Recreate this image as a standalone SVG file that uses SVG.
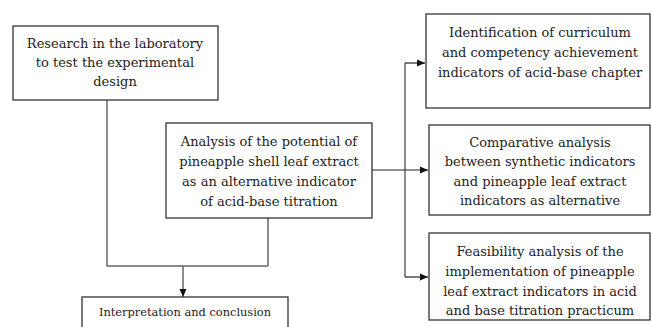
<svg xmlns="http://www.w3.org/2000/svg" width="652" height="327" viewBox="0 0 652 327">
<style>
.box{fill:#fff;stroke:#333;stroke-width:1.3}
text{font-family:'DejaVu Serif','Liberation Serif',serif;font-size:13px;fill:#222;text-anchor:middle}
.c{fill:none;stroke:#666;stroke-width:1.5}
.a{fill:none;stroke:#222;stroke-width:1.2}
</style>
<defs>
<marker id="ah" markerWidth="9" markerHeight="9" refX="8" refY="4.5" orient="auto" markerUnits="userSpaceOnUse">
<path d="M0,1 L8,4.5 L0,8 Z" fill="#111"/>
</marker>
</defs>
<rect width="652" height="327" fill="#fff"/>
<g id="connectors">
<polyline class="c" points="107,100 107,266 268,266"/>
<line class="c" x1="268" y1="218" x2="268" y2="266"/>
<line class="c" x1="183" y1="266" x2="183" y2="297" marker-end="url(#ah)"/>
<line class="c" x1="405" y1="63" x2="405" y2="277"/>
<line class="a" x1="372" y1="170" x2="428" y2="170" marker-end="url(#ah)"/>
<line class="a" x1="405" y1="63" x2="425" y2="63" marker-end="url(#ah)"/>
<line class="a" x1="405" y1="277" x2="428" y2="277" marker-end="url(#ah)"/>
</g>
<g id="research">
<rect class="box" x="13" y="26" width="205" height="74"/>
<text x="115" y="48">Research in the laboratory</text>
<text x="115" y="67">to test the experimental</text>
<text x="115" y="86">design</text>
</g>
<g id="analysis">
<rect class="box" x="166" y="123" width="206" height="95"/>
<text x="269" y="146">Analysis of the potential of</text>
<text x="269" y="166">pineapple shell leaf extract</text>
<text x="269" y="186">as an alternative indicator</text>
<text x="269" y="206">of acid-base titration</text>
</g>
<g id="identification">
<rect class="box" x="426" y="14" width="224" height="94"/>
<text x="540" y="37">Identification of curriculum</text>
<text x="540" y="57">and competency achievement</text>
<text x="540" y="77">indicators of acid-base chapter</text>
</g>
<g id="comparative">
<rect class="box" x="429" y="125" width="221" height="90"/>
<text x="540" y="147">Comparative analysis</text>
<text x="540" y="166">between synthetic indicators</text>
<text x="540" y="186">and pineapple leaf extract</text>
<text x="540" y="205">indicators as alternative</text>
</g>
<g id="feasibility">
<rect class="box" x="429" y="233" width="221" height="87"/>
<text x="540" y="256">Feasibility analysis of the</text>
<text x="540" y="276">implementation of pineapple</text>
<text x="540" y="296">leaf extract indicators in acid</text>
<text x="540" y="315">and base titration practicum</text>
</g>
<g id="interpretation">
<rect class="box" x="82" y="297" width="206" height="40"/>
<text x="185" y="316" style="font-size:11.4px">Interpretation and conclusion</text>
</g>
</svg>
